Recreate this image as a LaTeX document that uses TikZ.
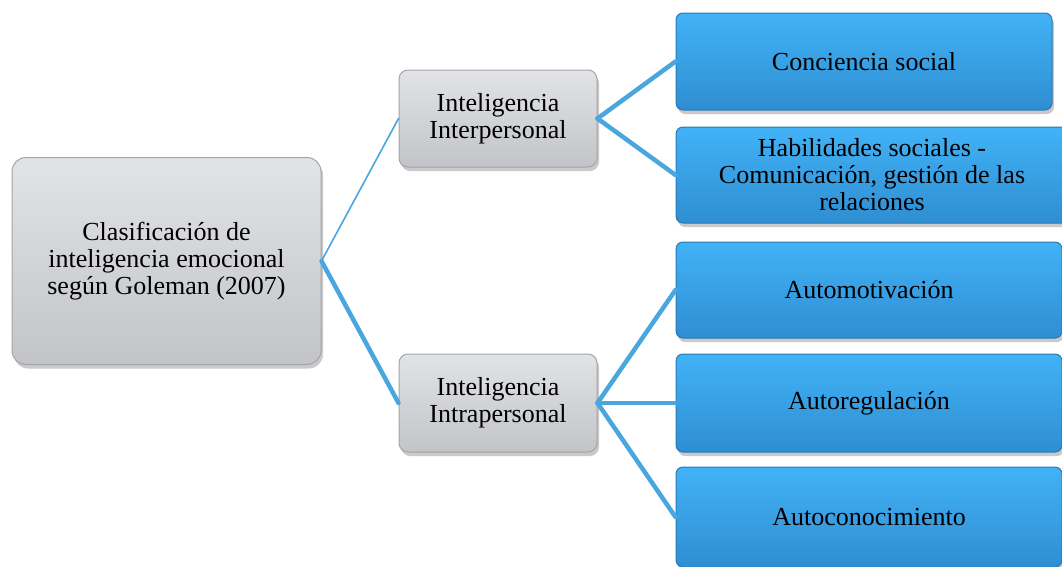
\documentclass[tikz,border=0pt]{standalone}
\usepackage{fontspec}
\setmainfont{Liberation Serif}
\usetikzlibrary{shadows}
\definecolor{linec}{HTML}{4AA6DE}
\definecolor{gtop}{HTML}{E2E3E6}
\definecolor{gbot}{HTML}{C3C4C8}
\definecolor{gbord}{HTML}{A3A4A8}
\definecolor{btop}{HTML}{42B2F6}
\definecolor{bbot}{HTML}{2F8ED2}
\definecolor{bbord}{HTML}{2A79B2}
\tikzset{
  base/.style={rectangle, rounded corners=9pt, align=center, inner sep=2pt,
    font=\fontsize{26}{27}\selectfont, text=black, line width=1pt,
    drop shadow={shadow xshift=2pt, shadow yshift=-4pt, opacity=0.35, fill=black!60}},
  graybox/.style={base, draw=gbord, top color=gtop, bottom color=gbot},
  bluebox/.style={base, draw=bbord, top color=btop, bottom color=bbot, rounded corners=7pt},
  thickcon/.style={draw=linec, line width=4.5pt, line cap=round},
  thincon/.style={draw=linec, line width=1.6pt, line cap=round}
}
\begin{document}
\begin{tikzpicture}[x=1pt,y=-1pt]
\useasboundingbox (0,0) rectangle (1062,566);
\node[graybox, rounded corners=14pt, minimum width=309pt, minimum height=207pt] (root) at (166.5,261) {Clasificación de\\inteligencia emocional\\según Goleman (2007)};
\node[graybox, minimum width=198pt, minimum height=97pt] (inter) at (498,118.5) {Inteligencia\\Interpersonal};
\node[graybox, minimum width=198pt, minimum height=98pt] (intra) at (498,403) {Inteligencia\\Intrapersonal};
\node[bluebox, minimum width=376pt, minimum height=97pt] (b1) at (864,61.5) {Conciencia social};
\node[bluebox, minimum width=392pt, minimum height=96pt] (b2) at (872,175) {Habilidades sociales -\\Comunicación, gestión de las\\relaciones};
\node[bluebox, minimum width=386pt, minimum height=96pt] (b3) at (869,290) {Automotivación};
\node[bluebox, minimum width=386pt, minimum height=98pt] (b4) at (869,403) {Autoregulación};
\node[bluebox, minimum width=386pt, minimum height=100pt] (b5) at (869,517) {Autoconocimiento};
\draw[thincon] (root.east) -- (inter.west);
\draw[thickcon] (root.east) -- (intra.west);
\draw[thickcon] (inter.east) -- (b1.west);
\draw[thickcon] (inter.east) -- (b2.west);
\draw[thickcon] (intra.east) -- (b3.west);
\draw[thickcon] (intra.east) -- (b4.west);
\draw[thickcon] (intra.east) -- (b5.west);
\end{tikzpicture}
\end{document}
